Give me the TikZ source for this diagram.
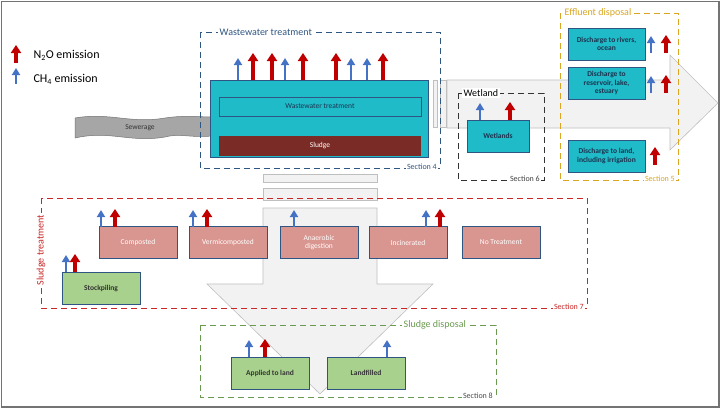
\documentclass[tikz,border=0pt]{standalone}
\usepackage{fontspec}
\setmainfont{Carlito}
\usetikzlibrary{arrows.meta}

\definecolor{teal}{RGB}{31,187,200}
\definecolor{boxline}{RGB}{47,85,130}
\definecolor{sludgebrown}{RGB}{123,43,37}
\definecolor{pinkbox}{RGB}{217,149,143}
\definecolor{greenbox}{RGB}{169,209,142}
\definecolor{nored}{RGB}{192,0,0}
\definecolor{chblue}{RGB}{68,114,196}
\definecolor{gold}{RGB}{218,165,32}
\definecolor{dgreen}{RGB}{106,154,80}
\definecolor{flowgray}{RGB}{242,242,242}

\tikzset{
  box/.style={draw=boxline,line width=0.7pt,minimum height=32pt,align=center,font=\fontsize{7.5}{8.5}\selectfont},
  tealbox/.style={box,fill=teal,text=boxline!60!black},
  pinkbox/.style={box,fill=pinkbox,text=white,minimum width=78pt},
  greenbox/.style={box,fill=greenbox,text=black!80,minimum width=78pt},
  section/.style={dashed,dash pattern=on 6pt off 4pt,line width=0.9pt},
  title/.style={fill=white,inner sep=1.5pt,font=\fontsize{10}{11}\selectfont},
  seclabel/.style={fill=white,inner sep=1pt,font=\fontsize{8}{9}\selectfont},
  flow/.style={fill=flowgray,draw=black!25,line width=0.6pt},
  noarrow/.style={nored,line width=3.5pt,-{Triangle[width=10pt,length=8pt]}},
  charrow/.style={chblue,line width=2.8pt,-{Triangle[width=8pt,length=7pt]}}
}
% emission arrows: x, bottom y
\newcommand{\noup}[2]{\draw[noarrow] (#1,#2) -- ++(0,-27);}
\newcommand{\chup}[2]{\draw[charrow] (#1,#2) -- ++(0,-22);}
\newcommand{\nosm}[2]{\draw[noarrow] (#1,#2) -- ++(0,-18);}
\newcommand{\chsm}[2]{\draw[charrow] (#1,#2) -- ++(0,-17);}

\begin{document}
\begin{tikzpicture}[x=1pt,y=-1pt]
\useasboundingbox (0,0) rectangle (722,410);
\draw[black!55,line width=1.5pt] (1.5,1.5) rectangle (719,407);

% legend
\draw[noarrow] (16,63) -- (16,45);
\node[anchor=west,font=\fontsize{12}{13}\selectfont] (lno) at (30,55) {N\textsubscript{2}O emission};
\draw[charrow] (16,84) -- (16,68);
\node[anchor=west,font=\fontsize{12}{13}\selectfont] (lch) at (30,79) {CH\textsubscript{4} emission};

% flows
\draw[flow] (447,80) -- (670,80) -- (670,55) -- (718,103) -- (670,150) -- (670,128) -- (447,128) -- cycle;
\draw[flow] (433,80) rectangle (437,127);
\draw[flow] (440,80) rectangle (446,127);
\draw[flow] (263,174) rectangle (377,182);
\draw[flow] (263,188) rectangle (377,200);
\draw[flow] (263,208) -- (377,208) -- (377,284) -- (433,284) -- (320,394) -- (207,284) -- (263,284) -- cycle;

% sewerage
\draw[fill=black!35,draw=black!55,line width=0.5pt]
  (75,118) .. controls (110,112) and (130,124) .. (165,118) .. controls (185,115) and (200,117) .. (212,117)
  -- (212,136) .. controls (190,138) and (180,133) .. (165,137) .. controls (130,143) and (110,130) .. (75,138) -- cycle;
\node[font=\fontsize{7.5}{8}\selectfont,text=black!80] (sew) at (140,128) {Sewerage};

% section 4
\draw[section,boxline] (200,32) rectangle (440,168);
\node[title,text=boxline,anchor=west] (t4) at (218,32) {Wastewater treatment};
\node[draw=boxline,fill=teal,line width=0.7pt,minimum width=218pt,minimum height=77pt] (wwt) at (319,118.5) {};
\node[draw=boxline,line width=0.6pt,minimum width=202pt,minimum height=19pt,font=\fontsize{7.5}{8}\selectfont,text=boxline!60!black] (wwin) at (320,106.5) {Wastewater treatment};
\node[fill=sludgebrown,minimum width=202pt,minimum height=20pt,font=\fontsize{7.5}{8}\selectfont,text=white] (sludge) at (320,146) {Sludge};
\foreach \x in {238,285,351,367}{\chup{\x}{80}}
\foreach \x in {253,272,303,336,383}{\noup{\x}{80}}
\node[seclabel,text=boxline,anchor=east] (s4) at (438,167) {Section 4};

% section 6
\draw[section,black!80] (458,93) rectangle (544,180);
\node[title,anchor=west] (t6) at (462,93) {Wetland};
\node[tealbox,minimum width=62pt] (wet) at (498,136) {\textbf{Wetlands}};
\chsm{480}{120}
\nosm{510}{120}
\node[seclabel,text=black!75,anchor=east] (s6) at (541,179) {Section 6};

% section 5
\draw[section,gold] (560,13) rectangle (678,180);
\node[title,text=gold,anchor=west] (t5) at (563,13) {Effluent disposal};
\node[tealbox,minimum width=77pt] (riv) at (606.5,44) {\textbf{Discharge to rivers,}\\\textbf{ocean}};
\node[tealbox,minimum width=77pt] (res) at (606.5,83) {\textbf{Discharge to}\\\textbf{reservoir, lake,}\\\textbf{estuary}};
\node[tealbox,minimum width=77pt] (lnd) at (606.5,156) {\textbf{Discharge to land,}\\\textbf{including irrigation}};
\chsm{651}{53}
\nosm{666}{53}
\chsm{651}{93}
\nosm{666}{93}
\nosm{655}{165}
\node[seclabel,text=gold,anchor=east] (s5) at (676,179) {Section 5};

% section 7
\draw[section,nored!85] (41,198) rectangle (587,308);
\node[title,text=nored!85,rotate=90] (t7) at (41,250) {Sludge treatment};
\node[pinkbox] (comp) at (138,242.5) {Composted};
\node[pinkbox] (verm) at (228,242.5) {Vermicomposted};
\node[pinkbox] (anae) at (319,242.5) {Anaerobic\\digestion};
\node[pinkbox] (inci) at (408,242.5) {Incinerated};
\node[pinkbox] (none) at (501,242.5) {No Treatment};
\node[greenbox] (stock) at (101,288) {\textbf{Stockpiling}};
\chsm{101}{227}
\nosm{115}{227}
\chsm{193}{227}
\nosm{207}{227}
\chsm{294}{227}
\chsm{426}{227}
\nosm{440}{227}
\chsm{66}{272}
\nosm{75}{272}
\node[seclabel,text=nored!85,anchor=east] (s7) at (585,307) {Section 7};

% section 8
\draw[section,dgreen] (200,325) rectangle (496,397);
\node[title,text=dgreen,anchor=west] (t8) at (402,325) {Sludge disposal};
\node[greenbox] (appl) at (270,373) {\textbf{Applied to land}};
\node[greenbox] (fill) at (366,373) {\textbf{Landfilled}};
\chsm{249}{357}
\nosm{265}{357}
\chsm{387}{357}
\node[seclabel,text=black!70,anchor=east] (s8) at (494,396) {Section 8};
\end{tikzpicture}
\end{document}
